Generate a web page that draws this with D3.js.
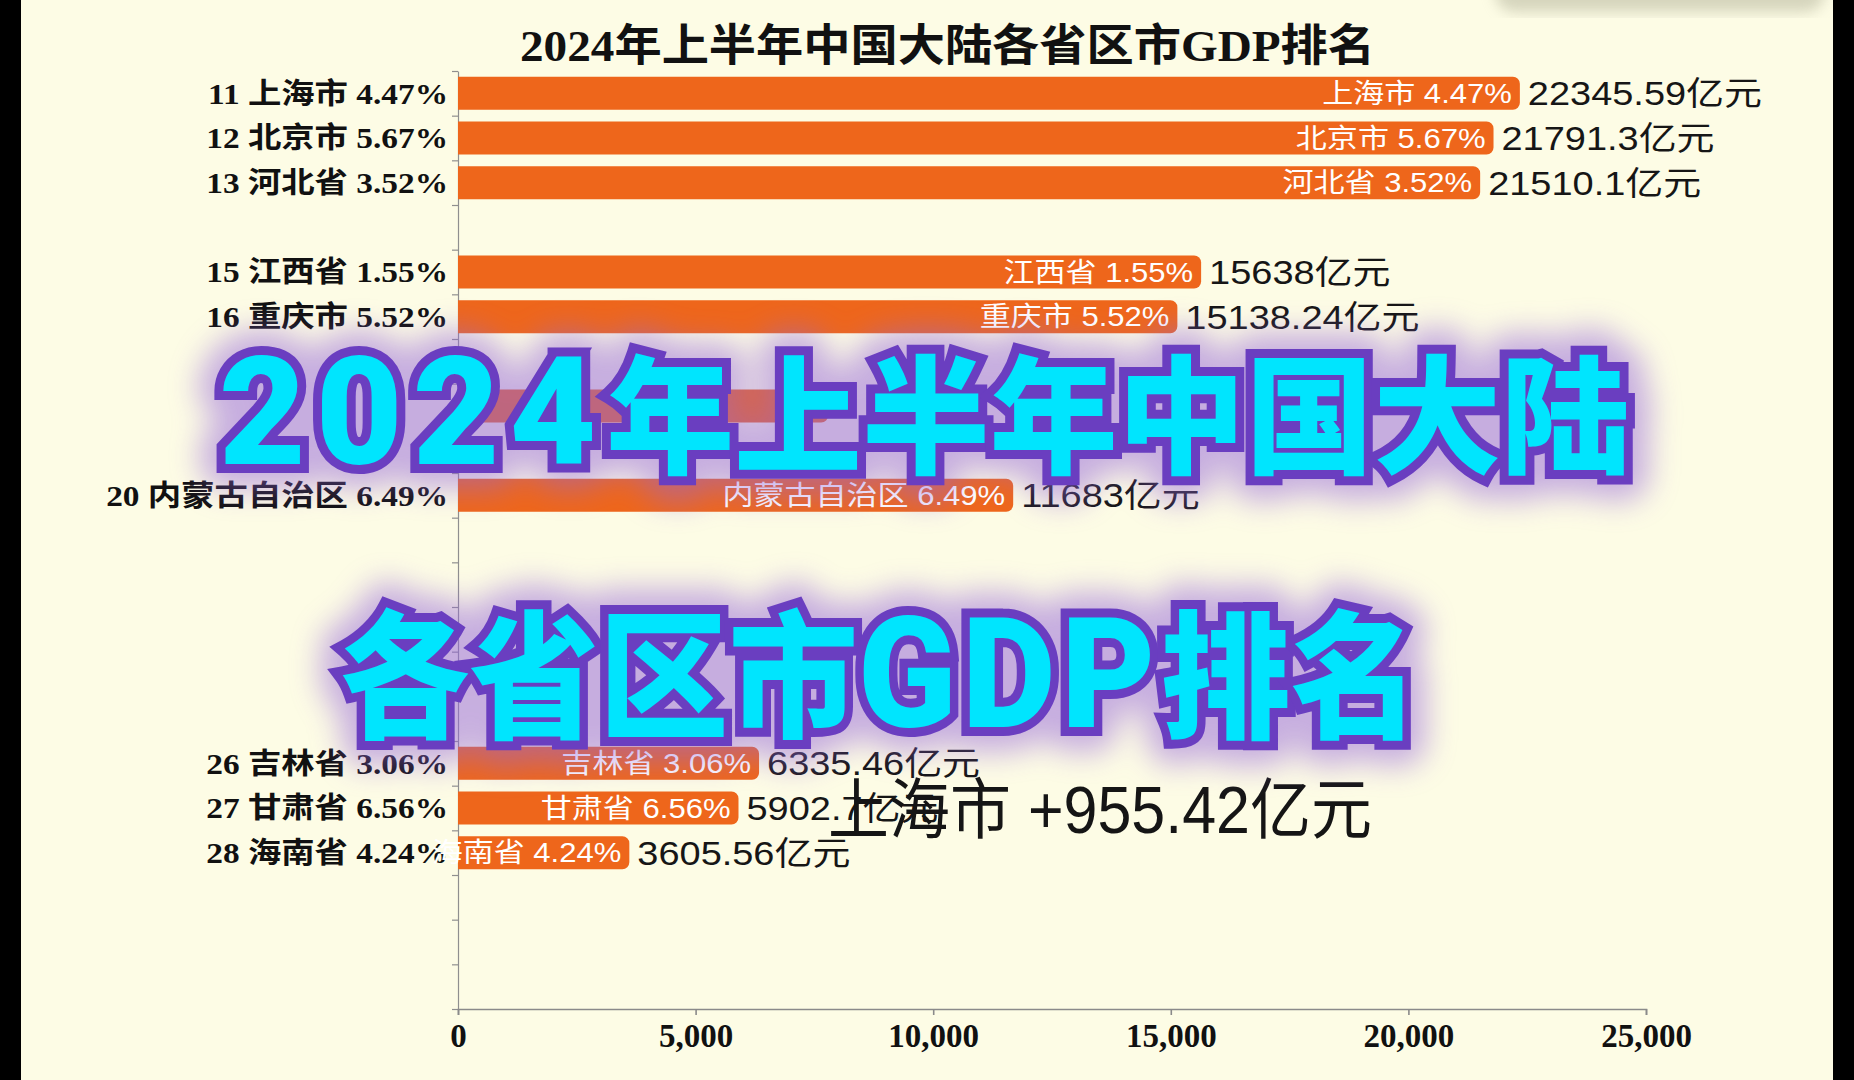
<!DOCTYPE html>
<html>
<head>
<meta charset="utf-8">
<script src="https://cdn.jsdelivr.net/npm/d3@7"></script>
<style>
  html, body { margin: 0; padding: 0; background: #000; }
  svg { display: block; }
</style>
</head>
<body>
<svg id="chart"></svg>
<script>
// rows visible in this frame (rank slot on the y axis)
const ranks = [11, 12, 13, 15, 16, 18, 20, 26, 27, 28];
const provinces = ["上海市", "北京市", "河北省", "江西省", "重庆市", null, "内蒙古自治区", "吉林省", "甘肃省", "海南省"];
const growth = [4.47, 5.67, 3.52, 1.55, 5.52, null, 6.49, 3.06, 6.56, 4.24];
const gdp = [22345.59, 21791.3, 21510.1, 15638, 15138.24, 7790, 11683, 6335.46, 5902.7, 3605.56];
const slots = d3.range(11, 32);
const xTicks = [0, 5000, 10000, 15000, 20000, 25000];

const title = "2024年上半年中国大陆各省区市GDP排名";
const deltaText = "上海市 +955.42亿元";
const overlayLines = ["2024年上半年中国大陆", "各省区市GDP排名"];

const W = 1854, H = 1080;
const SX = 1.15; // the frame is a little stretched sideways
const serif = "'Liberation Serif', 'Noto Sans CJK SC', serif";
const sans = "'Liberation Sans', 'Noto Sans CJK SC', sans-serif";

const rows = ranks.map((r, i) => ({
  rank: r, name: provinces[i], pct: growth[i], value: gdp[i]
}));

const svg = d3.select("#chart").attr("width", W).attr("height", H);
const defs = svg.append("defs");

defs.append("filter").attr("id", "glow")
  .attr("x", "-20%").attr("y", "-60%").attr("width", "140%").attr("height", "220%")
  .append("feGaussianBlur").attr("stdDeviation", 15);
defs.append("filter").attr("id", "soft")
  .append("feGaussianBlur").attr("stdDeviation", 7);

svg.append("rect").attr("width", W).attr("height", H).attr("fill", "#fdfce5");

// shadow of something just above the frame, top right
svg.append("rect")
  .attr("x", 1495).attr("y", -40).attr("width", 330).attr("height", 52)
  .attr("rx", 20)
  .attr("fill", "#b5b59c").attr("opacity", 0.55)
  .attr("filter", "url(#soft)");

const x = d3.scaleLinear().domain([0, 25000]).range([458, 1646]);
const y = d3.scaleBand().domain(slots).range([71, 1009])
  .paddingInner(0.26).paddingOuter(0.13);
const yEdge = d3.scaleLinear().domain([0, slots.length]).range([71, 1009]);

// y axis: ticks on the slot boundaries, no labels
svg.append("g")
  .attr("transform", `translate(${x(0)},0)`)
  .call(d3.axisLeft(yEdge).tickValues(d3.range(0, slots.length + 1))
    .tickFormat("").tickSize(6).tickSizeOuter(0))
  .call(g => g.selectAll("path,line").attr("stroke", "#8f8f8f").attr("stroke-width", 1.2));

// x axis
svg.append("g")
  .attr("transform", `translate(0,${yEdge(slots.length)})`)
  .call(d3.axisBottom(x).tickValues(xTicks).tickFormat(d3.format(","))
    .tickSize(6).tickPadding(9))
  .call(g => g.selectAll("path,line").attr("stroke", "#8a8a8a").attr("stroke-width", 1.6))
  .call(g => g.selectAll("text")
    .attr("fill", "#111")
    .style("font-family", serif)
    .style("font-weight", "bold")
    .style("font-size", "33px"));

// title
svg.append("text")
  .attr("x", 520).attr("y", 61)
  .attr("textLength", 855).attr("lengthAdjust", "spacingAndGlyphs")
  .style("font-family", serif).style("font-weight", "bold").style("font-size", "44px")
  .attr("fill", "#111")
  .text(title);

function barPath(x0, x1, y0, h, r) {
  r = Math.min(r, (x1 - x0) / 2, h / 2);
  return `M${x0},${y0}H${x1 - r}A${r},${r} 0 0 1 ${x1},${y0 + r}` +
    `V${y0 + h - r}A${r},${r} 0 0 1 ${x1 - r},${y0 + h}H${x0}Z`;
}

const cy = d => y(d.rank) + y.bandwidth() / 2;
const labelled = rows.filter(d => d.name);

svg.append("g").selectAll("path")
  .data(rows)
  .join("path")
  .attr("d", d => barPath(x(0), x(d.value), y(d.rank), y.bandwidth(), 7))
  .attr("fill", "#ee661b");

// rank / name / growth on the left
svg.append("g").selectAll("text")
  .data(labelled)
  .join("text")
  .attr("transform", d => `translate(448,${cy(d)}) scale(${SX},1)`)
  .attr("dy", "0.36em")
  .attr("text-anchor", "end")
  .attr("fill", "#111")
  .style("font-family", serif).style("font-weight", "bold").style("font-size", "29px")
  .text(d => `${d.rank} ${d.name} ${d.pct.toFixed(2)}%`);

// name + growth inside the bar end
svg.append("g").selectAll("text")
  .data(labelled)
  .join("text")
  .attr("transform", d => `translate(${x(d.value) - 8},${cy(d)}) scale(${SX},1)`)
  .attr("dy", "0.36em")
  .attr("text-anchor", "end")
  .attr("fill", "#fff")
  .style("font-family", sans).style("font-size", "27px")
  .text(d => `${d.name} ${d.pct.toFixed(2)}%`);

// value after the bar
svg.append("g").selectAll("text")
  .data(labelled)
  .join("text")
  .attr("transform", d => `translate(${x(d.value) + 8},${cy(d)}) scale(${SX},1)`)
  .attr("dy", "0.36em")
  .attr("fill", "#161616")
  .style("font-family", sans).style("font-size", "33px")
  .text(d => `${d.value}亿元`);

// running increase for the leader
svg.append("text")
  .attr("x", 828).attr("y", 833)
  .attr("textLength", 544).attr("lengthAdjust", "spacingAndGlyphs")
  .attr("fill", "#151515")
  .style("font-family", sans).style("font-size", "66px")
  .text(deltaText);

// big cover caption
const overlay = [
  { text: overlayLines[0], x: 219, y: 464, cjk: 128, latin: 150, ls: 10, len: 1410 },
  { text: overlayLines[1], x: 340, y: 727, cjk: 138, latin: 154, ls: 6, len: 1080 }
];

const isLatin = s => /[0-9A-Za-z]/.test(s);

function caption(g, o) {
  const t = g.append("text")
    .attr("x", o.x).attr("y", o.y)
    .attr("textLength", o.len).attr("lengthAdjust", "spacingAndGlyphs")
    .style("font-weight", 900);
  t.selectAll("tspan")
    .data(o.text.match(/[0-9A-Za-z]+|[^0-9A-Za-z]+/g))
    .join("tspan")
    .style("font-family", s => isLatin(s) ? "Roboto, 'Noto Sans CJK SC'" : "'Noto Sans CJK SC'")
    .style("font-size", s => (isLatin(s) ? o.latin : o.cjk) + "px")
    .style("letter-spacing", s => isLatin(s) ? o.ls + "px" : "0px")
    .text(s => s);
  return t;
}

const glow = svg.append("g").attr("filter", "url(#glow)").attr("opacity", 0.52);
overlay.forEach(o => {
  caption(glow, o)
    .attr("fill", "#9466da").attr("stroke", "#9466da")
    .attr("stroke-width", 50).attr("stroke-linejoin", "round");
});

const cap = svg.append("g");
overlay.forEach(o => {
  caption(cap, o)
    .attr("fill", "#00e5fe").attr("stroke", "#6a3ec0")
    .attr("stroke-width", 18).attr("stroke-linejoin", "miter")
    .attr("paint-order", "stroke");
});

// black side strips of the video frame
svg.append("rect").attr("x", 0).attr("width", 21).attr("height", H).attr("fill", "#000");
svg.append("rect").attr("x", 1833).attr("width", 21).attr("height", H).attr("fill", "#000");
</script>
</body>
</html>
